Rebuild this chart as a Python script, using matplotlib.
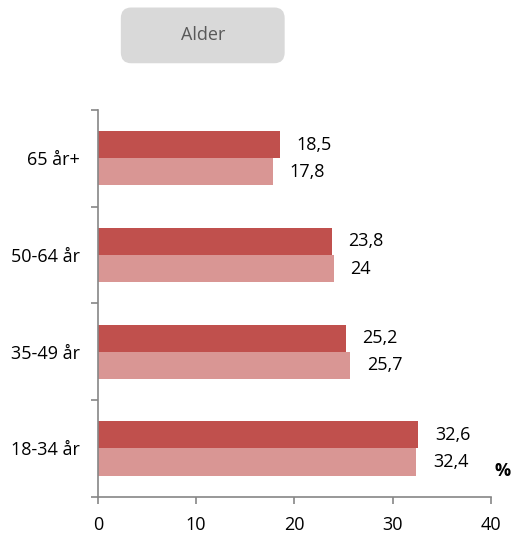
import matplotlib.pyplot as plt
from matplotlib.patches import FancyBboxPatch
import numpy as np

# data (bottom to top)
categories = ["18-34 år", "35-49 år", "50-64 år", "65 år+"]
serie_mork = [32.6, 25.2, 23.8, 18.5]
serie_lys = [32.4, 25.7, 24.0, 17.8]
xticks = [0, 10, 20, 30, 40]

plt.rcParams['font.family'] = ['Open Sans', 'DejaVu Sans']
fs = 13

fig = plt.figure(figsize=(5.12, 5.36), dpi=100)
ax = fig.add_axes([0.191, 0.073, 0.768, 0.722])

y = np.arange(len(categories))
h = 0.28
ax.barh(y + h / 2, serie_mork, height=h, color='#C0504D')
ax.barh(y - h / 2, serie_lys, height=h, color='#D99694')

def fmt(v):
    s = ('%.1f' % v).rstrip('0').rstrip('.')
    return s.replace('.', ',')

for i in range(len(categories)):
    ax.annotate(fmt(serie_mork[i]), (serie_mork[i], y[i] + h / 2), xytext=(12, 0),
                textcoords='offset points', va='center', ha='left', fontsize=fs)
    ax.annotate(fmt(serie_lys[i]), (serie_lys[i], y[i] - h / 2), xytext=(12, 0),
                textcoords='offset points', va='center', ha='left', fontsize=fs)

ax.set_xlim(0, 40)
ax.set_ylim(-0.5, len(categories) - 0.5)
ax.set_xticks(xticks)
ax.set_yticks(y)
ax.set_yticklabels(categories)
ax.set_yticks(np.arange(-0.5, len(categories)), minor=True)
ax.tick_params(axis='y', which='major', length=0, pad=13, labelsize=fs)
ax.tick_params(axis='y', which='minor', length=5, color='#868686', width=1.2)
ax.tick_params(axis='x', length=5, color='#868686', width=1.2, labelsize=fs, pad=9)

for s in ['top', 'right']:
    ax.spines[s].set_visible(False)
for s in ['left', 'bottom']:
    ax.spines[s].set_color('#868686')
    ax.spines[s].set_linewidth(1.2)

fig.text(0.982, 0.122, '%', fontsize=fs, fontweight='bold', ha='center', va='center')

# title box
box = FancyBboxPatch((0.236, 0.882), 0.32, 0.104, boxstyle='round,pad=0,rounding_size=0.02',
                     transform=fig.transFigure, facecolor='#D9D9D9', edgecolor='none')
fig.patches.append(box)
fig.text(0.396, 0.934, 'Alder', fontsize=fs, color='#595959', ha='center', va='center')

fig.savefig('out.png', dpi=100)
